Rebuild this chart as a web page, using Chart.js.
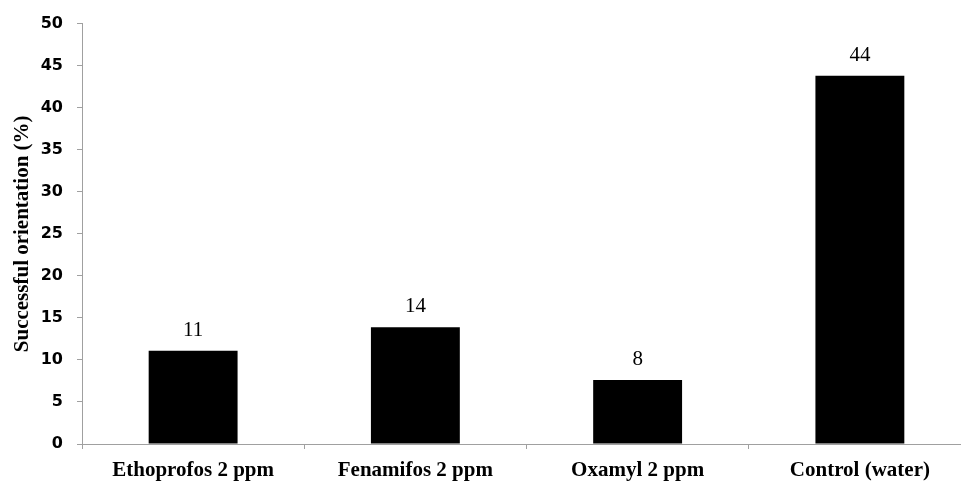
<!DOCTYPE html>
<html>
<head>
<meta charset="utf-8">
<script src="https://cdn.jsdelivr.net/npm/chart.js@4"></script>
<style>
  html, body { margin: 0; padding: 0; background: #fff; overflow: hidden; }
  #wrap { width: 971px; height: 481px; position: relative; }
</style>
</head>
<body>
<div id="wrap"><canvas id="orientChart"></canvas></div>
<script>
const categories = ['Ethoprofos 2 ppm', 'Fenamifos 2 ppm', 'Oxamyl 2 ppm', 'Control (water)'];
const orientation = [11.1, 13.9, 7.6, 43.8];
const yTicks = [0, 5, 10, 15, 20, 25, 30, 35, 40, 45, 50];

const axisGray = '#a0a0a0';

// draws the rounded value above each bar
const valueLabels = {
    id: 'valueLabels',
    afterDatasetsDraw(chart) {
        const ctx = chart.ctx;
        const meta = chart.getDatasetMeta(0);
        ctx.save();
        ctx.font = '21px "Liberation Serif", "Times New Roman", serif';
        ctx.fillStyle = '#000';
        ctx.textAlign = 'center';
        ctx.textBaseline = 'alphabetic';
        meta.data.forEach((bar, i) => {
            ctx.fillText(String(Math.round(orientation[i])), bar.x, bar.y - 15);
        });
        ctx.restore();
    }
};

function createOrientationChart() {
    const ctx = document.getElementById('orientChart').getContext('2d');
    new Chart(ctx, {
        type: 'bar',
        data: {
            labels: categories,
            datasets: [{
                data: orientation,
                backgroundColor: '#000',
                borderWidth: 0,
                categoryPercentage: 1,
                barPercentage: 0.4
            }]
        },
        options: {
            responsive: true,
            maintainAspectRatio: false,
            animation: false,
            layout: { padding: { top: 9, right: 0, bottom: 0, left: 0 } },
            scales: {
                x: {
                    afterFit: scale => { scale.height = 37; },
                    border: { display: true, color: axisGray, width: 1 },
                    grid: { display: true, drawOnChartArea: false, drawTicks: true, tickLength: 5, color: axisGray },
                    ticks: {
                        color: '#000',
                        padding: 9,
                        maxRotation: 0,
                        font: { family: '"Liberation Serif", "Times New Roman", serif', size: 21, weight: 'bold' }
                    }
                },
                y: {
                    min: 0,
                    max: 50,
                    afterBuildTicks: scale => { scale.ticks = yTicks.map(v => ({ value: v })); },
                    afterFit: scale => { scale.width = 82; },
                    border: { display: true, color: axisGray, width: 1 },
                    grid: { display: true, drawOnChartArea: false, drawTicks: true, tickLength: 5, color: axisGray },
                    ticks: {
                        color: '#000',
                        padding: 14,
                        font: { family: '"DejaVu Sans", sans-serif', size: 16, weight: 'bold' }
                    },
                    title: {
                        display: true,
                        text: 'Successful orientation (%)',
                        color: '#000',
                        padding: { top: 10, bottom: 0 },
                        font: { family: '"Liberation Serif", "Times New Roman", serif', size: 21, weight: 'bold' }
                    }
                }
            },
            plugins: {
                legend: { display: false },
                tooltip: { enabled: false }
            }
        },
        plugins: [valueLabels]
    });
}

document.addEventListener('DOMContentLoaded', function() {
    createOrientationChart();
});
</script>
</body>
</html>
